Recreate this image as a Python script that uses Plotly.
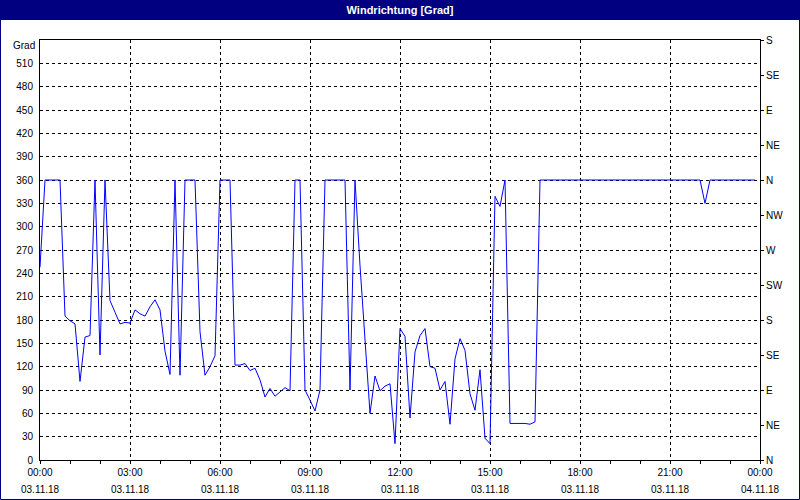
import pandas as pd
import plotly.graph_objects as go

# 10-minute wind direction samples, 03.11.18 00:00 .. 23:50
direction = [
    248, 360, 360, 360, 360, 185, 179, 175, 101, 158,
    160, 360, 135, 360, 205, 190, 175, 177, 176, 193,
    188, 185, 197, 206, 193, 140, 110, 360, 109, 360,
    360, 360, 165, 109, 120, 134, 360, 360, 360, 122,
    122, 124, 115, 118, 103, 81, 92, 82, 88, 93,
    89, 360, 360, 90, 77, 63, 90, 360, 360, 360,
    360, 360, 90, 360, 250, 154, 60, 108, 89, 95,
    98, 21, 169, 159, 54, 139, 160, 169, 120, 118,
    90, 101, 46, 130, 156, 141, 85, 64, 116, 28,
    21, 339, 326, 360, 47, 47, 47, 47, 46, 49,
    360, 360, 360, 360, 360, 360, 360, 360, 360, 360,
    360, 360, 360, 360, 360, 360, 360, 360, 360, 360,
    360, 360, 360, 360, 360, 360, 360, 360, 360, 360,
    360, 360, 360, 330, 360, 360, 360, 360, 360, 360,
    360, 360, 360, 360,
]
times = pd.date_range("2018-11-03 00:00", periods=len(direction), freq="10min")

x_tick_times = pd.date_range("2018-11-03 00:00", "2018-11-04 00:00", freq="3h")
x_tick_text = [t.strftime("%H:%M") for t in x_tick_times]
x_date_text = [t.strftime("%d.%m.%y") for t in x_tick_times]

left_ticks = list(range(0, 540, 30))
right_ticks = list(range(0, 541, 45))
right_labels = ["N", "NE", "E", "SE", "S", "SW", "W", "NW", "N", "NE", "E", "SE", "S"]

FONT = "Liberation Sans"
NAVY = "#000080"

fig = go.Figure()
fig.add_trace(go.Scatter(x=times, y=direction, mode="lines",
                         line=dict(color="#0000FF", width=1),
                         showlegend=False, hoverinfo="x+y"))
fig.add_trace(go.Scatter(x=times, y=direction, mode="lines", yaxis="y2",
                         line=dict(color="rgba(0,0,0,0)", width=0),
                         showlegend=False, hoverinfo="skip"))

fig.update_layout(
    width=800, height=500,
    margin=dict(l=40, r=40, t=40, b=40),
    paper_bgcolor="white", plot_bgcolor="white",
    font=dict(family=FONT, size=10, color="black"),
    title=dict(text="<b>Windrichtung [Grad]</b>", x=0.5, xanchor="center",
               y=1 - 10 / 500, yanchor="middle",
               font=dict(family=FONT, size=11, color="white")),
    xaxis=dict(
        range=[x_tick_times[0], x_tick_times[-1]],
        tickmode="array", tickvals=x_tick_times, ticktext=x_tick_text,
        ticks="outside", ticklen=3, tickcolor="black",
        showline=True, linecolor="black", linewidth=1, mirror=True,
        showgrid=True, gridcolor="black", gridwidth=1, griddash="3px,3px",
        minor=dict(dtick=3600000, ticks="outside", ticklen=3, tickcolor="black", showgrid=False),
        zeroline=False, fixedrange=True,
    ),
    yaxis=dict(
        range=[0, 540], tickmode="array", tickvals=left_ticks,
        ticks="", showline=True, linecolor="black", linewidth=1, mirror=True,
        showgrid=True, gridcolor="black", gridwidth=1, griddash="3px,3px",
        zeroline=False, ticklabelstandoff=4,
    ),
    yaxis2=dict(
        range=[0, 540], overlaying="y", side="right", tickmode="array",
        tickvals=right_ticks, ticktext=right_labels,
        ticks="outside", ticklen=3, tickcolor="black",
        showline=True, linecolor="black", showgrid=False, zeroline=False,
    ),
)

# title bar and window frame
fig.add_shape(type="rect", xref="paper", yref="paper",
              x0=-40 / 720, x1=760 / 720, y0=440 / 420, y1=460 / 420,
              fillcolor=NAVY, line=dict(width=0), layer="below")
fig.add_shape(type="rect", xref="paper", yref="paper",
              x0=-39.5 / 720, x1=759.5 / 720, y0=-39.5 / 420, y1=459.5 / 420,
              fillcolor="rgba(0,0,0,0)", line=dict(color=NAVY, width=1))

# "Grad" unit label
fig.add_annotation(text="Grad", xref="paper", yref="paper", x=-3 / 720, y=1,
                   xanchor="right", yanchor="middle", yshift=-5, showarrow=False,
                   font=dict(family=FONT, size=10, color="black"))

# date row beneath time ticks
for t, d in zip(x_tick_times, x_date_text):
    fig.add_annotation(text=d, x=t, xref="x", y=0, yref="paper", yshift=-29,
                       xanchor="center", yanchor="middle", showarrow=False,
                       font=dict(family=FONT, size=10, color="black"))

fig.write_html("out.html", config={"displayModeBar": False},
               post_script="document.body.style.margin='0';document.body.style.overflow='hidden';")
